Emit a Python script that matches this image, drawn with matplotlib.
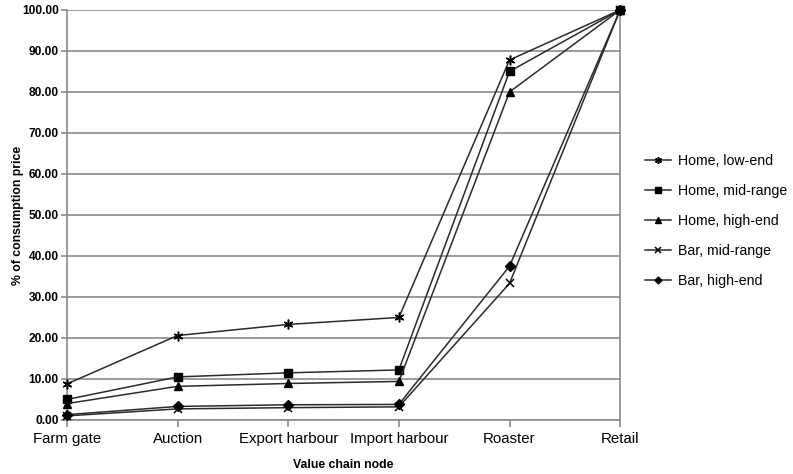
import matplotlib
matplotlib.use("Agg")
import matplotlib.pyplot as plt

plt.rcParams['font.family'] = ['Liberation Sans', 'DejaVu Sans']

nodes = ["Farm gate", "Auction", "Export harbour", "Import harbour", "Roaster", "Retail"]

home_low = [8.8, 20.6, 23.3, 25.0, 87.8, 100.0]
home_mid = [5.0, 10.5, 11.5, 12.2, 85.0, 100.0]
home_high = [4.0, 8.2, 8.9, 9.4, 80.0, 100.0]
bar_mid = [1.0, 2.7, 3.0, 3.2, 33.3, 100.0]
bar_high = [1.3, 3.3, 3.7, 3.8, 37.5, 100.0]

series = [
    ("Home, low-end", home_low, dict(marker=(6, 2, 0), markersize=7, markeredgewidth=1.1)),
    ("Home, mid-range", home_mid, dict(marker="s", markersize=6)),
    ("Home, high-end", home_high, dict(marker="^", markersize=6)),
    ("Bar, mid-range", bar_mid, dict(marker="x", markersize=6, markeredgewidth=1.1)),
    ("Bar, high-end", bar_high, dict(marker="D", markersize=5)),
]

yticks = [0, 10, 20, 30, 40, 50, 60, 70, 80, 90, 100]

fig = plt.figure(figsize=(7.93, 4.74), dpi=100)
ax = fig.add_axes([0.0845, 0.114, 0.6975, 0.865])

line_col = "#2b2b2b"
grid_col = "#8a8a8a"

x = list(range(len(nodes)))
for name, vals, style in series:
    ax.plot(x, vals, color=line_col, linewidth=1.1, label=name, clip_on=False,
            markerfacecolor="black", markeredgecolor="black", zorder=3, **style)

ax.set_xlim(0, len(nodes) - 1)
ax.set_ylim(0, 100)
ax.set_yticks(yticks)
ax.set_yticklabels([f"{v:.2f}" for v in yticks], fontsize=8.6, fontweight="bold")
ax.set_xticks(x)
ax.set_xticklabels(nodes, fontsize=10.8)
ax.yaxis.grid(True, color=grid_col, linewidth=1.2)
ax.set_axisbelow(True)

for side in ["left", "bottom", "right"]:
    ax.spines[side].set_color(grid_col)
    ax.spines[side].set_linewidth(1.2)
ax.spines["top"].set_visible(False)
ax.tick_params(axis="both", direction="out", color=grid_col, width=1.2, length=5)
ax.tick_params(axis="y", pad=2, length=4)
ax.tick_params(axis="x", pad=4)

ax.set_ylabel("% of consumption price", fontsize=8.8, fontweight="bold")
ax.yaxis.set_label_coords(-0.078, 0.5)
ax.set_xlabel("Value chain node", fontsize=8.8, fontweight="bold", labelpad=9)

leg = ax.legend(loc="center left", bbox_to_anchor=(1.022, 0.485), frameon=False,
                fontsize=10.2, handlelength=1.8, labelspacing=1.12, handletextpad=0.5,
                markerscale=0.7)

fig.savefig("out.png", dpi=100)
